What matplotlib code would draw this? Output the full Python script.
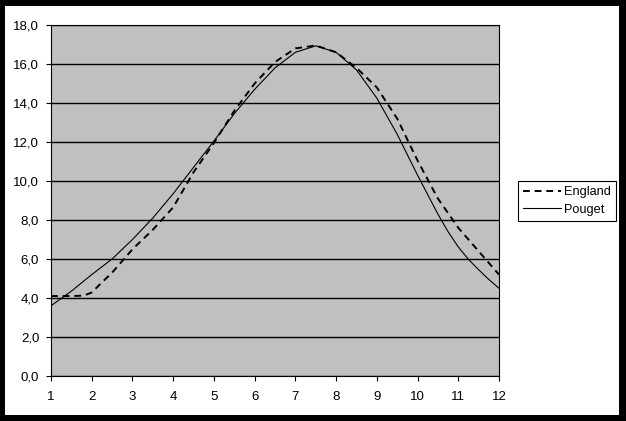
import numpy as np
import matplotlib.pyplot as plt
from matplotlib.patches import Rectangle
from matplotlib.ticker import FuncFormatter

# Values (x mostly in steps of 0.5, extra points on the bends)
x_eng = [1, 1.5, 1.8, 2, 2.25, 2.5, 3, 3.5, 4, 4.5, 5, 5.5, 6, 6.5,
         7, 7.5, 8, 8.5, 9, 9.5, 10, 10.5, 11, 11.5, 12]
england = [4.1, 4.1, 4.12, 4.28, 4.8, 5.3, 6.5, 7.5, 8.65, 10.45, 11.95, 13.6, 15.0, 16.1,
           16.8, 16.95, 16.6, 15.8, 14.8, 13.2, 11.05, 9.1, 7.6, 6.4, 5.2]
x_pou = [1, 1.5, 2, 2.5, 3, 3.5, 4, 4.5, 5, 5.5, 6, 6.5, 7, 7.5, 8,
         8.5, 9, 9.5, 10, 10.5, 10.75, 11, 11.25, 11.5, 11.75, 12]
pouget = [3.6, 4.35, 5.2, 6.0, 7.0, 8.1, 9.35, 10.7, 12.05, 13.45, 14.7, 15.8, 16.6, 16.93, 16.6,
          15.7, 14.25, 12.4, 10.3, 8.3, 7.4, 6.62, 5.98, 5.45, 4.95, 4.5]
series_names = ["England", "Pouget"]
y_ticks = [0, 2, 4, 6, 8, 10, 12, 14, 16, 18]
x_ticks = list(range(1, 13))

plt.rcParams["font.family"] = ["Liberation Sans", "DejaVu Sans"]
plt.rcParams["font.size"] = 9.5

fig = plt.figure(figsize=(6.26, 4.21), dpi=100)
fig.patch.set_facecolor("black")
# white chart area inside the black frame
fig.add_artist(Rectangle((5 / 626, 6 / 421), 614 / 626, 409 / 421,
                         transform=fig.transFigure, facecolor="white",
                         edgecolor="none", zorder=-5))

ax = fig.add_axes([51 / 626, 1 - 376 / 421, 448 / 626, 351 / 421])
ax.set_facecolor("#c0c0c0")

ax.plot(x_eng, england, color="black", lw=1.4, ls=(0, (3.5, 2.5)),
        label=series_names[0], zorder=3)
ax.plot(x_pou, pouget, color="black", lw=0.8, ls="-",
        label=series_names[1], zorder=3)

ax.set_xlim(1, 12)
ax.set_ylim(0, 18)
ax.set_xticks(x_ticks)
ax.set_yticks(y_ticks)
ax.yaxis.set_major_formatter(FuncFormatter(lambda v, p: f"{v:.1f}".replace(".", ",")))
ax.grid(axis="y", color="black", lw=1)
ax.set_axisbelow(True)
ax.tick_params(direction="out", length=3.5, width=0.8, colors="black")
ax.tick_params(axis="x", pad=7)
ax.tick_params(axis="y", pad=5)
for s in ax.spines.values():
    s.set_color("black")
    s.set_linewidth(0.8)

leg = fig.legend(loc="upper left", bbox_to_anchor=(518 / 626, 1 - 181 / 421),
                 frameon=True, fancybox=False, framealpha=1, edgecolor="black",
                 fontsize=9.2, handlelength=3.0, handletextpad=0.2, borderpad=0.4,
                 labelspacing=0.45, borderaxespad=0)
leg.get_frame().set_linewidth(0.8)

fig.savefig("out.png", dpi=100, facecolor=fig.get_facecolor())
